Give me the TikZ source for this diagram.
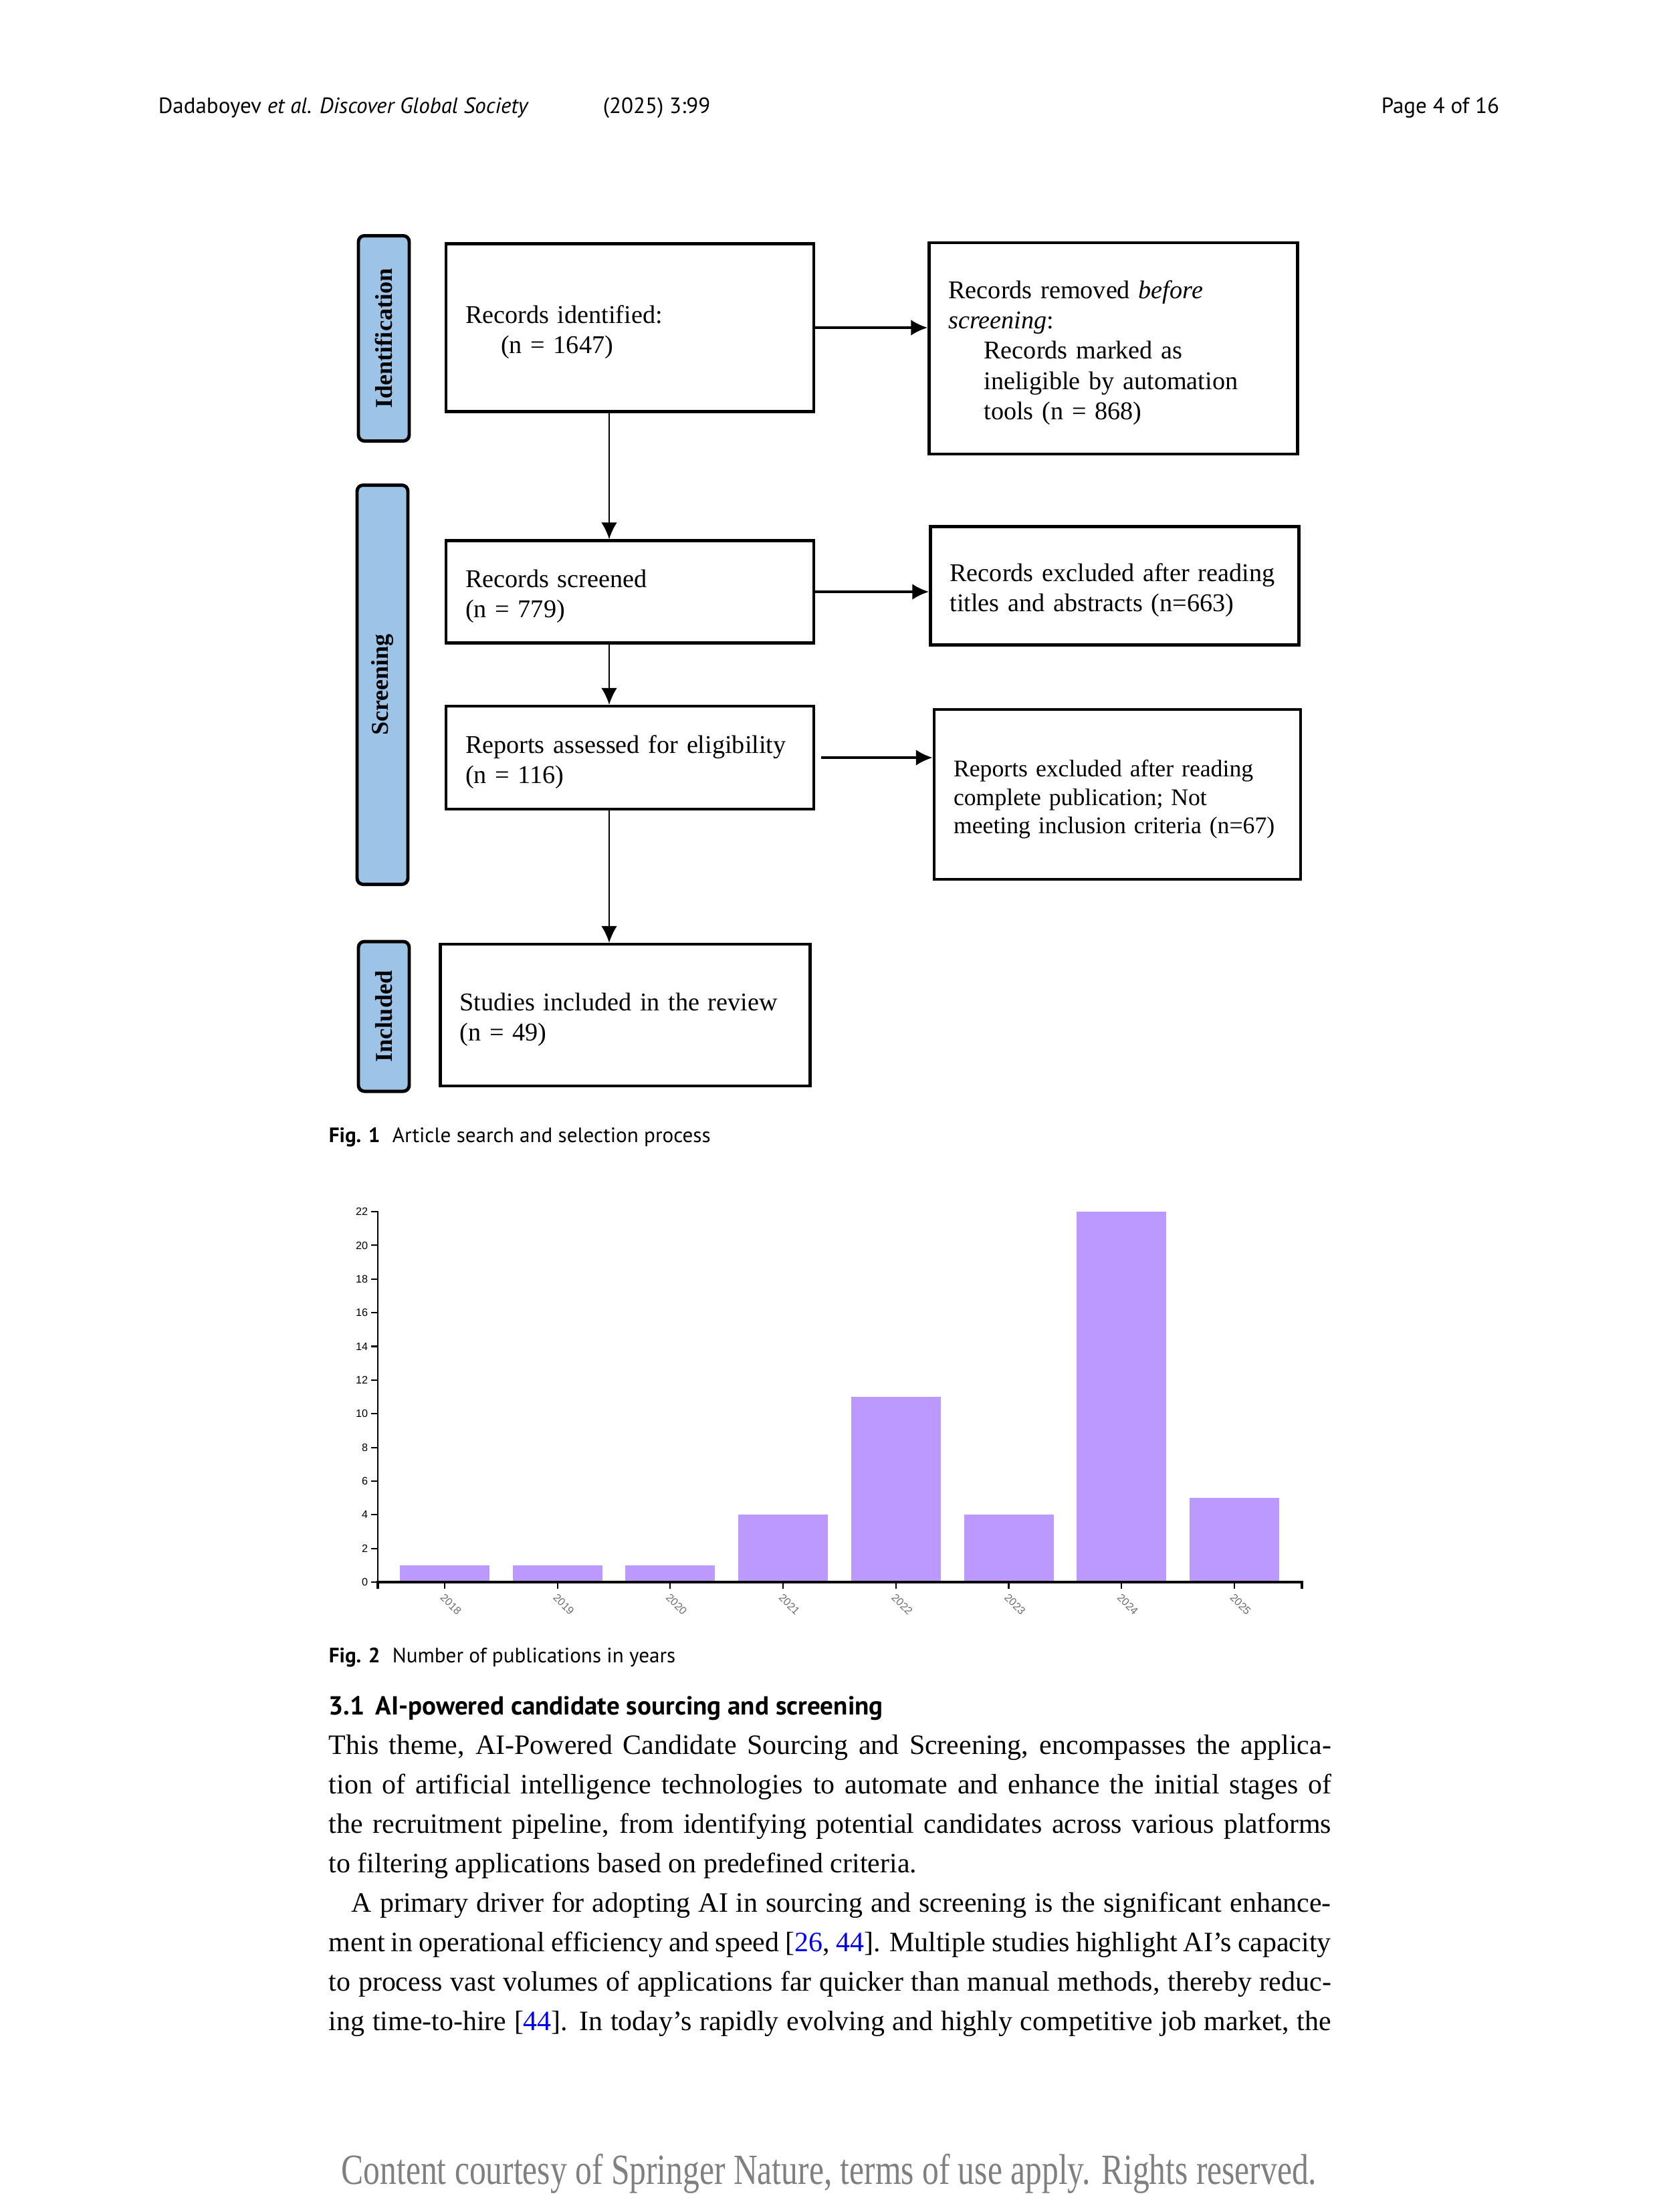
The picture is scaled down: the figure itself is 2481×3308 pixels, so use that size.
\documentclass[tikz,border=0pt]{standalone}
\usepackage{fontspec}
\setmainfont{Liberation Serif}
\setsansfont{PT Sans}
\newfontfamily\grafico{Liberation Sans}
\usetikzlibrary{arrows.meta,positioning,calc}
\newlength{\pxu}
\setlength{\pxu}{0.084644mm}
\definecolor{faseazul}{RGB}{157,195,230}
\definecolor{barra}{RGB}{187,153,255}
\definecolor{citacao}{RGB}{0,0,238}
\definecolor{rodape}{RGB}{128,128,128}
\definecolor{rotulo}{RGB}{110,110,110}
\newcommand{\cit}[1]{\textcolor{citacao}{#1}}

\begin{document}
\begin{tikzpicture}[x=0.084644mm, y=-0.084644mm, > = {Latex[length=2.1mm,width=2mm]}]
            % Estilos
            \tikzstyle{caixa}=[draw, line width=1.1pt, align=left, inner xsep=29\pxu, inner ysep=0pt, font=\fontsize{9.2}{10.9}\selectfont, execute at begin node={\rule{0pt}{9.6pt}}]
            \tikzstyle{fase}=[draw, line width=1.2pt, fill=faseazul, rounded corners=9\pxu, rotate=90, inner sep=0pt, minimum height=76\pxu, font=\fontsize{8.7}{10}\selectfont\bfseries]
            \tikzstyle{linha}=[inner sep=0pt, anchor=base west, font=\fontsize{10.1}{11}\selectfont]
            \tikzstyle{legenda}=[inner sep=0pt, anchor=base west, font=\sffamily\fontsize{7.5}{9}\selectfont]
            \tikzstyle{cabeca}=[inner sep=0pt, anchor=base west, font=\sffamily\fontsize{7.95}{9}\selectfont]
            \tikzstyle{marca}=[inner sep=0pt, font=\grafico\fontsize{3.9}{4.5}\selectfont]
            \tikzstyle{seta}=[->, line width=0.8pt]
            \tikzstyle{fio}=[->, line width=0.5pt]

            \useasboundingbox (0,0) rectangle (2481,3308);
            \fill[white] (0,0) rectangle (2481,3308);

            % Cabeçalho
            \node[cabeca] (autor) at (236,169) {Dadaboyev \textit{et al. Discover Global Society}};
            \node[cabeca] (ano) at (901,169) {(2025) 3:99};
            \node[cabeca, anchor=base east] (pag) at (2243,169) {Page 4 of 16};

            % Fases
            \node[fase, minimum width=307\pxu] (fid) at (574,506) {Identification};
            \node[fase, minimum width=597\pxu] (fscr) at (572,1024) {Screening};
            \node[fase, minimum width=224\pxu] (finc) at (574,1520) {Included};

            % Caixas
            \node[caixa, minimum height=251\pxu, text width=492\pxu] (rid) at (942,490) {Records identified:\\\hspace*{53\pxu}(n = 1647)};
            \node[caixa, minimum height=316\pxu, text width=493\pxu] (rrem) at (1665,521) {Records removed \textit{before}\\\textit{screening}:\\\hspace*{53\pxu}Records marked as\\\hspace*{53\pxu}ineligible by automation\\\hspace*{53\pxu}tools (n = 868)};
            \node[caixa, minimum height=153\pxu, text width=492\pxu] (rscr) at (942,885) {Records screened\\(n = 779)};
            \node[caixa, minimum height=177\pxu, text width=493\pxu] (rexc) at (1667,876) {Records excluded after reading\\titles and abstracts (n=663)};
            \node[caixa, minimum height=154\pxu, text width=492\pxu] (rass) at (942,1133) {Reports assessed for eligibility\\(n = 116)};
            \node[caixa, minimum height=254\pxu, text width=490\pxu, font=\fontsize{8.6}{10.3}\selectfont] (rrex) at (1671,1188) {Reports excluded after reading\\complete publication; Not\\meeting inclusion criteria (n=67)};
            \node[caixa, minimum height=212\pxu, text width=495\pxu] (sinc) at (935,1518) {Studies included in the review\\(n = 49)};

            % Setas
            \coordinate (eixo) at (911,0);
            \draw[seta] (rid.east) -- (rid.east -| rrem.west);
            \draw[seta] (rscr.east) -- (rscr.east -| rexc.west);
            \draw[seta, shorten <=9\pxu] (rass.east) -- (rass.east -| rrex.west);
            \draw[fio] (rid.south -| eixo) -- (rscr.north -| eixo);
            \draw[fio] (rscr.south -| eixo) -- (rass.north -| eixo);
            \draw[fio] (rass.south -| eixo) -- (sinc.north -| eixo);

            \node[legenda, font=\sffamily\bfseries\fontsize{7.5}{9}\selectfont] (fig1) at (491,1708) {Fig. 1};
            \node[legenda] (leg1) at (586,1708) {Article search and selection process};

            % Grafico
            \foreach \ano/\v [count=\i from 0] in {2018/1, 2019/1, 2020/1, 2021/4, 2022/11, 2023/4, 2024/22, 2025/5} {
                \pgfmathsetmacro{\cx}{665+168.7*\i}
                \fill[barra] (\cx-67,2366) rectangle (\cx+67,2366-25.18*\v);
                \draw[line width=0.5pt] (\cx,2366) -- (\cx,2376);
                \node[marca, text=rotulo, rotate=-45, anchor=west] (x\ano) at (\cx-4,2386) {\ano};
            }
            \foreach \v in {0,2,...,22} {
                \draw[line width=0.5pt] (555,2366-25.18*\v) -- (565,2366-25.18*\v);
                \node[marca, anchor=east] (y\v) at (551,2366-25.18*\v) {\v};
            }
            \draw[line width=0.7pt] (555,1812) -- (565,1812) -- (565,2366) -- (555,2366);
            \draw[line width=1pt] (565,2376) -- (565,2366) -- (1947,2366) -- (1947,2376);

            \node[legenda, font=\sffamily\bfseries\fontsize{7.5}{9}\selectfont] (fig2) at (491,2486) {Fig. 2};
            \node[legenda] (leg2) at (586,2486) {Number of publications in years};

            % Texto
            \node[legenda, font=\sffamily\bfseries\fontsize{9.4}{11}\selectfont] (secn) at (491,2564) {3.1};
            \node[legenda, font=\sffamily\bfseries\fontsize{9.4}{11}\selectfont] (sect) at (561,2564) {AI-powered candidate sourcing and screening};
            \node[linha] (l1) at (491,2623) {\makebox[1499\pxu][s]{This theme, AI-Powered Candidate Sourcing and Screening, encompasses the applica-}};
            \node[linha] (l2) at (491,2682) {\makebox[1499\pxu][s]{tion of artificial intelligence technologies to automate and enhance the initial stages of}};
            \node[linha] (l3) at (491,2741) {\makebox[1499\pxu][s]{the recruitment pipeline, from identifying potential candidates across various platforms}};
            \node[linha] (l4) at (491,2800) {to filtering applications based on predefined criteria.};
            \node[linha] (l5) at (525,2859) {\makebox[1465\pxu][s]{A primary driver for adopting AI in sourcing and screening is the significant enhance-}};
            \node[linha] (l6) at (491,2918) {\makebox[1499\pxu][s]{ment in operational efficiency and speed [\cit{26}, \cit{44}]. Multiple studies highlight AI\symbol{39}s capacity}};
            \node[linha] (l7) at (491,2977) {\makebox[1499\pxu][s]{to process vast volumes of applications far quicker than manual methods, thereby reduc-}};
            \node[linha] (l8) at (491,3036) {\makebox[1499\pxu][s]{ing time-to-hire [\cit{44}]. In today\symbol{39}s rapidly evolving and highly competitive job market, the}};

            % Rodape
            \node[inner sep=0pt, anchor=base, text=rodape, font=\fontsize{15.5}{18}\selectfont] (rod) at (1240,3266) {\scalebox{0.77}[1]{Content courtesy of Springer Nature, terms of use apply. Rights reserved.}};
        \end{tikzpicture}
\end{document}
